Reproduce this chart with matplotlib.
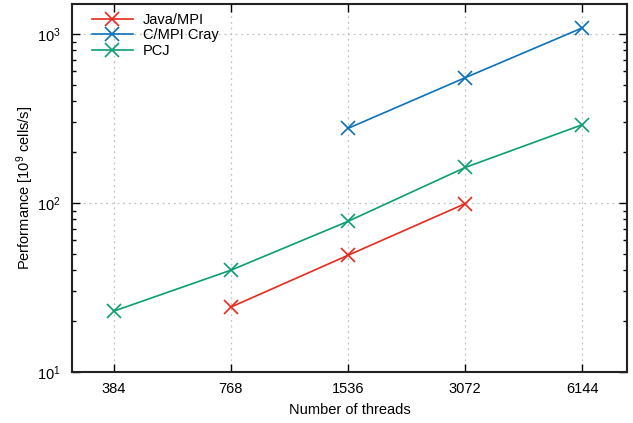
import math
import matplotlib
matplotlib.use("Agg")
import matplotlib.pyplot as plt
from matplotlib.ticker import LogLocator, FixedLocator, NullFormatter, FuncFormatter

plt.rcParams["font.family"] = ["Liberation Sans", "DejaVu Sans"]
plt.rcParams["mathtext.fontset"] = "custom"
plt.rcParams["mathtext.rm"] = "Liberation Sans"
plt.rcParams["mathtext.it"] = "Liberation Sans:italic"

threads = [384, 768, 1536, 3072, 6144]

java_threads = [768, 1536, 3072]
java_perf = [24.2, 49.0, 99.0]

cray_threads = [1536, 3072, 6144]
cray_perf = [276, 550, 1084]

pcj_threads = [384, 768, 1536, 3072, 6144]
pcj_perf = [22.9, 40.0, 77.8, 162, 290]

series = [
    ("Java/MPI", java_threads, java_perf, "#e8291c"),
    ("C/MPI Cray", cray_threads, cray_perf, "#0b72b8"),
    ("PCJ", pcj_threads, pcj_perf, "#0a9e72"),
]

fig = plt.figure(figsize=(6.33, 4.23), dpi=100)
ax = fig.add_axes([72 / 633, 51 / 423, 555 / 633, 368 / 423])

for name, x, y, c in series:
    ax.plot(x, y, color=c, lw=1.2, marker="x", ms=10, mew=1.2, label=name)

ax.set_xscale("log", base=2)
ax.set_yscale("log")
ax.set_xlim(300, 8000)
ax.set_ylim(10, 1500)

ax.xaxis.set_major_locator(FixedLocator(threads))
ax.xaxis.set_major_formatter(FuncFormatter(lambda v, p: f"{int(round(v))}"))
ax.xaxis.set_minor_locator(FixedLocator([]))
ax.yaxis.set_major_locator(LogLocator(base=10))
ax.yaxis.set_minor_locator(LogLocator(base=10, subs=range(2, 10)))
ax.yaxis.set_minor_formatter(NullFormatter())
ax.yaxis.set_major_formatter(FuncFormatter(lambda v, p: r"$10^{%d}$" % round(math.log10(v))))

ax.tick_params(which="both", direction="in", top=True, right=True, labelsize=10.5)
ax.tick_params(axis="x", pad=7)
ax.tick_params(axis="y", pad=8)
ax.tick_params(which="major", length=6, width=1)
ax.tick_params(which="minor", length=3, width=1)

for s in ax.spines.values():
    s.set_linewidth(1.5)
    s.set_color("#222222")

ax.grid(True, which="major", linestyle=(0, (1.5, 3)), color="#c0c0c0", lw=0.9)

ax.set_xlabel("Number of threads", fontsize=10.5, labelpad=5)
ax.set_ylabel(r"Performance [10$^9$ cells/s]", fontsize=10.5, labelpad=1)

ax.legend(loc="upper left", frameon=False, fontsize=10.5, handlelength=2.8,
          borderaxespad=0.2, labelspacing=0.1, handletextpad=0.7,
          bbox_to_anchor=(0.02, 1.0))

fig.savefig("out.png", dpi=100)
